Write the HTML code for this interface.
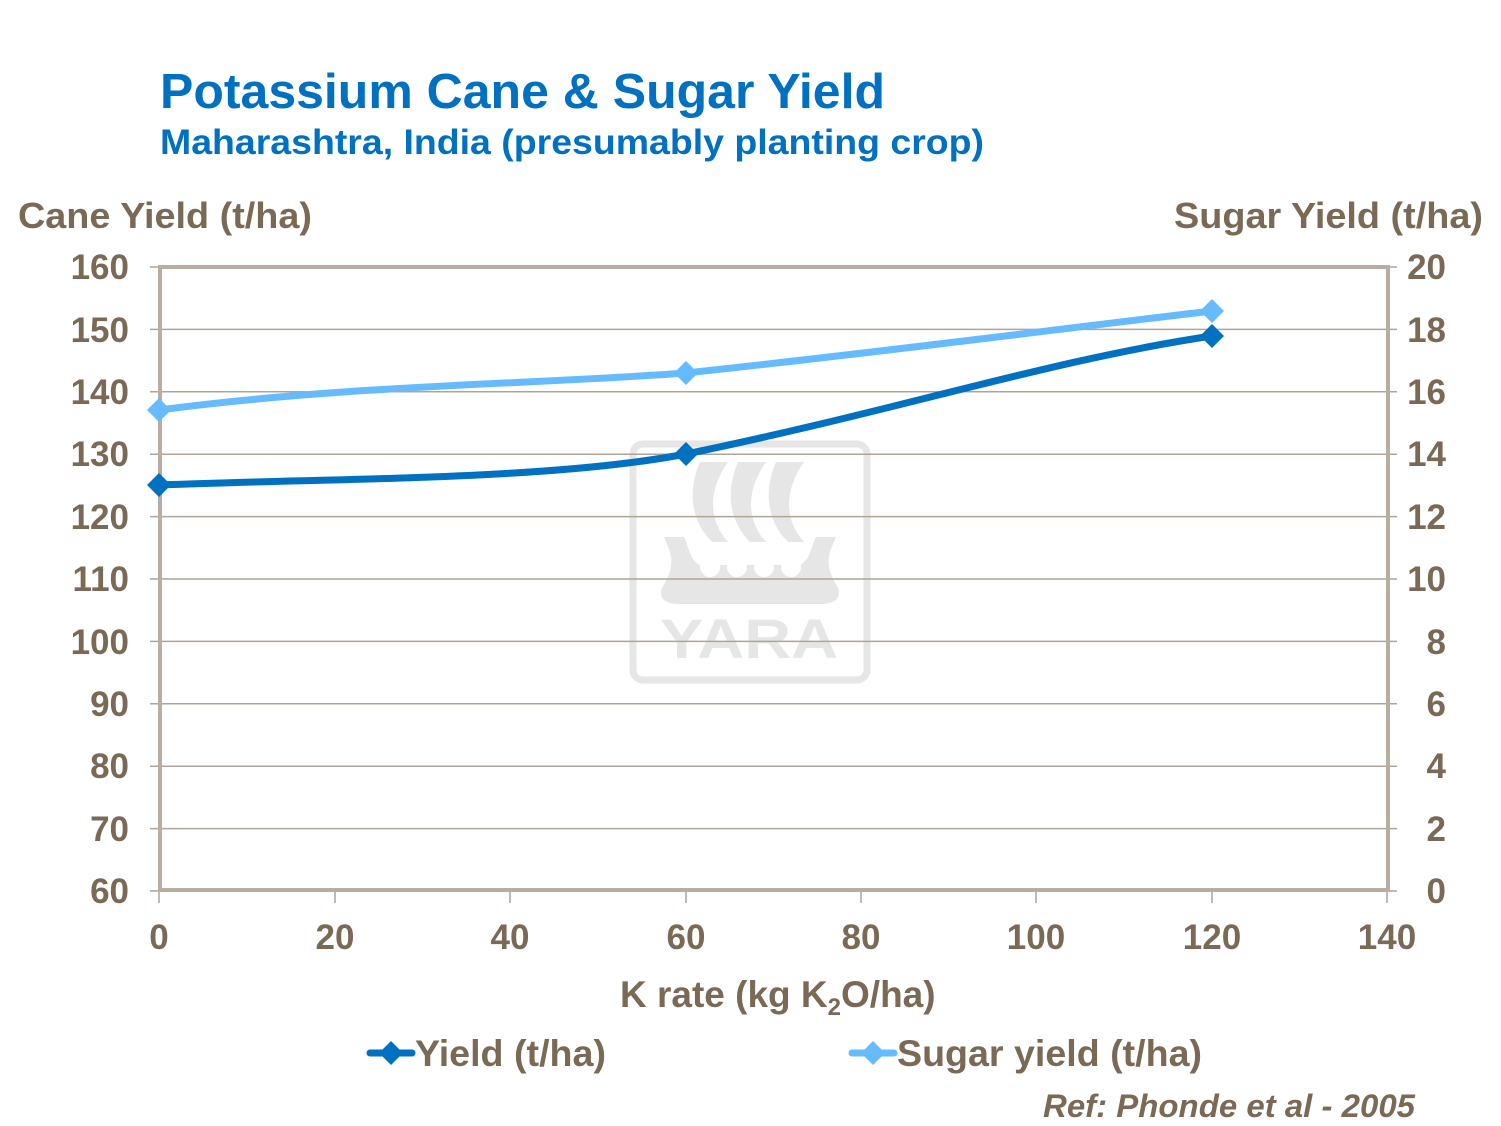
<!DOCTYPE html>
<html><head><meta charset="utf-8"><style>
html,body{margin:0;padding:0;background:#fff;}
svg{display:block;font-family:"Liberation Sans",Arial,sans-serif;font-weight:bold;}
</style></head><body>
<svg width="1501" height="1126" viewBox="0 0 1501 1126" xmlns="http://www.w3.org/2000/svg">
<rect width="1501" height="1126" fill="#fff"/>
<text x="160" y="108" font-size="49" fill="#0070c0" textLength="725" lengthAdjust="spacingAndGlyphs">Potassium Cane &amp; Sugar Yield</text>
<text x="160" y="154" font-size="35" fill="#0070c0" textLength="824" lengthAdjust="spacingAndGlyphs">Maharashtra, India (presumably planting crop)</text>
<text x="18" y="228" font-size="36" fill="#7a6a55" textLength="294" lengthAdjust="spacingAndGlyphs">Cane Yield (t/ha)</text>
<text x="1174" y="228" font-size="36" fill="#7a6a55" textLength="309" lengthAdjust="spacingAndGlyphs">Sugar Yield (t/ha)</text>
<!-- watermark -->
<g fill="#e6e6e6">
<rect x="633" y="444" width="234" height="236" rx="10" fill="none" stroke="#e6e6e6" stroke-width="7"/>
<path d="M700,462 L728,462 C708,490 708,520 728,542 L712,542 C690,520 688,490 700,462Z"/>
<path d="M738,462 L766,462 C746,490 746,520 766,542 L750,542 C728,520 726,490 738,462Z"/>
<path d="M776,462 L804,462 C784,490 784,520 804,542 L788,542 C766,520 764,490 776,462Z"/>
<path d="M664,537 L684,537 C690,550 690,560 700,565 L800,565 C810,560 810,550 816,537 L836,537 C830,552 822,562 838,588 C842,600 832,604 822,604 L678,604 C668,604 658,600 662,588 C678,562 670,552 664,537Z"/>
<text x="660" y="658" font-size="56" fill="#e6e6e6" textLength="178" lengthAdjust="spacingAndGlyphs">YARA</text>
</g>
<g fill="#fff"><circle cx="710" cy="567" r="10"/><circle cx="737" cy="567" r="10"/><circle cx="764" cy="567" r="10"/><circle cx="791" cy="567" r="10"/></g>
<!-- gridlines -->
<g stroke="#b0a496" stroke-width="1.5">
<line x1="150" y1="267" x2="1397" y2="267"/>
<line x1="150" y1="329.4" x2="1397" y2="329.4"/>
<line x1="150" y1="391.8" x2="1397" y2="391.8"/>
<line x1="150" y1="454.2" x2="1397" y2="454.2"/>
<line x1="150" y1="516.6" x2="1397" y2="516.6"/>
<line x1="150" y1="579" x2="1397" y2="579"/>
<line x1="150" y1="641.4" x2="1397" y2="641.4"/>
<line x1="150" y1="703.8" x2="1397" y2="703.8"/>
<line x1="150" y1="766.2" x2="1397" y2="766.2"/>
<line x1="150" y1="828.6" x2="1397" y2="828.6"/>
<line x1="150" y1="891" x2="1397" y2="891"/>
<line x1="159" y1="891" x2="159" y2="903"/><line x1="335" y1="891" x2="335" y2="903"/>
<line x1="510" y1="891" x2="510" y2="903"/><line x1="686" y1="891" x2="686" y2="903"/>
<line x1="861" y1="891" x2="861" y2="903"/><line x1="1036" y1="891" x2="1036" y2="903"/>
<line x1="1212" y1="891" x2="1212" y2="903"/><line x1="1387" y1="891" x2="1387" y2="903"/>
</g>
<rect x="160" y="267" width="1228" height="623" fill="none" stroke="#b8ada0" stroke-width="4"/>
<g font-size="35" fill="#7a6a55" text-anchor="end">
<text x="129" y="279">160</text><text x="129" y="342">150</text><text x="129" y="404">140</text>
<text x="129" y="466">130</text><text x="129" y="529">120</text><text x="129" y="591">110</text>
<text x="129" y="654">100</text><text x="129" y="716">90</text><text x="129" y="778">80</text>
<text x="129" y="841">70</text><text x="129" y="903">60</text>
</g>
<g font-size="35" fill="#7a6a55" text-anchor="end">
<text x="1446" y="279">20</text><text x="1446" y="342">18</text><text x="1446" y="404">16</text>
<text x="1446" y="466">14</text><text x="1446" y="529">12</text><text x="1446" y="591">10</text>
<text x="1446" y="654">8</text><text x="1446" y="716">6</text><text x="1446" y="778">4</text>
<text x="1446" y="841">2</text><text x="1446" y="903">0</text>
</g>
<g font-size="35" fill="#7a6a55" text-anchor="middle">
<text x="159" y="949">0</text><text x="335" y="949">20</text><text x="510" y="949">40</text>
<text x="686" y="949">60</text><text x="861" y="949">80</text><text x="1036" y="949">100</text>
<text x="1212" y="949">120</text><text x="1387" y="949">140</text>
</g>
<text x="620" y="1007" font-size="37" fill="#7a6a55">K rate (kg K<tspan font-size="24" dy="8">2</tspan><tspan dy="-8">O/ha)</tspan></text>
<!-- series -->
<path d="M159,485 C340,478 550,480 686,454 C900,410 1050,360 1212,336" fill="none" stroke="#0070c0" stroke-width="7"/>
<path d="M159,410 C350,385 520,385 686,373 C900,350 1050,330 1212,311" fill="none" stroke="#66bbff" stroke-width="7"/>
<g fill="#0070c0">
<path d="M159,473 l12,12 l-12,12 l-12,-12z"/><path d="M686,442 l12,12 l-12,12 l-12,-12z"/><path d="M1212,324 l12,12 l-12,12 l-12,-12z"/>
</g>
<g fill="#66bbff">
<path d="M159,398 l12,12 l-12,12 l-12,-12z"/><path d="M686,361 l12,12 l-12,12 l-12,-12z"/><path d="M1212,299 l12,12 l-12,12 l-12,-12z"/>
</g>
<!-- legend -->
<line x1="370" y1="1053" x2="412" y2="1053" stroke="#0070c0" stroke-width="7" stroke-linecap="round"/>
<path d="M391,1041 l12,12 l-12,12 l-12,-12z" fill="#0070c0"/>
<text x="415" y="1066" font-size="37" fill="#7a6a55" textLength="191" lengthAdjust="spacingAndGlyphs">Yield (t/ha)</text>
<line x1="852" y1="1053" x2="894" y2="1053" stroke="#66bbff" stroke-width="7" stroke-linecap="round"/>
<path d="M873,1041 l12,12 l-12,12 l-12,-12z" fill="#66bbff"/>
<text x="897" y="1066" font-size="37" fill="#7a6a55" textLength="305" lengthAdjust="spacingAndGlyphs">Sugar yield (t/ha)</text>
<text x="1043" y="1117" font-size="32" font-style="italic" fill="#7a6a55" textLength="372" lengthAdjust="spacingAndGlyphs">Ref: Phonde et al - 2005</text>
</svg>
</body></html>
